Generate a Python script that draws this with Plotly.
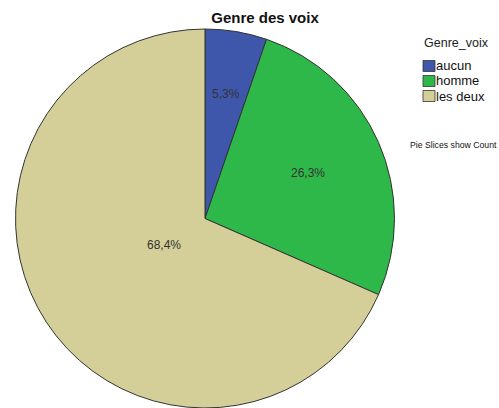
import math
import plotly.graph_objects as go

categories = ["aucun", "homme", "les deux"]
counts = [1, 5, 13]
colors = ["#3f57ab", "#2fb84a", "#d4cf98"]
pct_labels = ["5,3%", "26,3%", "68,4%"]

W, H = 499, 408
FONT = "Arial, Liberation Sans, sans-serif"


def px(x):
    return x / W


def py(y):
    return 1 - y / H


# pie geometry (window pixels)
cx_px, top_px, r_px = 205, 29, 189.5
dom_x = [px(cx_px - r_px), px(cx_px + r_px)]
dom_y = [py(top_px + 2 * r_px), py(top_px)]
cx_p = (dom_x[0] + dom_x[1]) / 2
cy_p = (dom_y[0] + dom_y[1]) / 2

fig = go.Figure(go.Pie(
    labels=categories,
    values=counts,
    textinfo="none",
    sort=False,
    direction="clockwise",
    rotation=0,
    marker=dict(colors=colors, line=dict(color="#333333", width=1)),
    domain=dict(x=dom_x, y=dom_y),
    hoverinfo="label+value",
    showlegend=False,
))

annotations = []
# percentage labels at the centroid of each sector
total = sum(counts)
start = 0.0
for c, lab in zip(counts, pct_labels):
    frac = c / total
    half = math.pi * frac
    mid = 2 * math.pi * start + half
    d = (2 / 3) * r_px * math.sin(half) / half
    annotations.append(dict(
        text=lab, x=cx_p + d * math.sin(mid) / W, y=cy_p + d * math.cos(mid) / H,
        xref="paper", yref="paper", xanchor="center", yanchor="middle",
        showarrow=False, font=dict(family=FONT, size=12, color="#333333"),
    ))
    start += frac

# legend
shapes = []
annotations.append(dict(
    text="Genre_voix", x=px(422), y=py(43), xref="paper", yref="paper",
    xanchor="left", yanchor="middle", showarrow=False,
    font=dict(family=FONT, size=12.5, color="#222222"),
))
row_y = [66, 81, 96]
for cat, col, yy in zip(categories, colors, row_y):
    shapes.append(dict(
        type="rect", xref="paper", yref="paper",
        x0=px(423), x1=px(435), y0=py(yy - 5.5), y1=py(yy + 5.5),
        fillcolor=col, line=dict(color="#333333", width=0.8),
    ))
    annotations.append(dict(
        text=cat, x=px(434), y=py(yy), xref="paper", yref="paper",
        xanchor="left", yanchor="middle", showarrow=False,
        font=dict(family=FONT, size=13, color="#111111"),
    ))

annotations.append(dict(
    text="Pie Slices show Count", x=px(408), y=py(145),
    xref="paper", yref="paper", xanchor="left", yanchor="middle",
    showarrow=False, font=dict(family=FONT, size=8.7, color="#111111"),
))

fig.update_layout(
    width=W, height=H,
    margin=dict(l=0, r=0, t=0, b=0),
    paper_bgcolor="white",
    font=dict(family=FONT, size=12, color="#222222"),
    title=dict(text="<b>Genre des voix</b>", x=px(265), xanchor="center",
               y=py(18), yanchor="middle",
               font=dict(family=FONT, size=15, color="#111111")),
    shapes=shapes,
    annotations=annotations,
)

fig.write_html("out.html",
               config={"displayModeBar": False},
               post_script="document.body.style.margin='0';document.body.style.overflow='hidden';")
